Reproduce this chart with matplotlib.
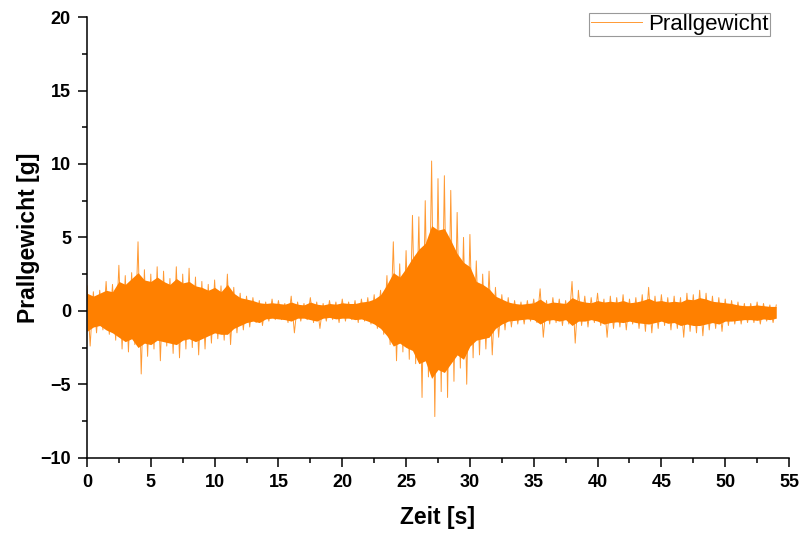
import numpy as np
import matplotlib
matplotlib.use("Agg")
import matplotlib.pyplot as plt
from matplotlib.ticker import MultipleLocator

plt.rcParams["font.family"] = ["Liberation Sans", "DejaVu Sans"]

# alternating peak readings every 0.25 s: positive peak, then negative peak
peak_step = 0.25
peak_values = [
    1.7, -2.4, 1.3, -1.5,   1.4, -1.3, 2.0, -1.6,   1.8, -2.0, 3.1, -2.6,
    2.4, -2.8, 2.6, -2.3,   4.7, -4.3, 2.8, -3.1,   2.5, -2.6, 3.0, -3.4,
    2.7, -2.4, 2.2, -2.9,   3.0, -3.2, 2.5, -2.6,   2.9, -2.5, 2.3, -3.0,
    2.0, -2.6, 1.8, -2.2,   2.1, -1.9, 1.7, -2.0,   2.5, -2.3, 1.6, -1.5,
    1.2, -1.3, 1.0, -1.1,   0.9, -0.8, 0.7, -1.0,   0.6, -0.7, 0.8, -0.6,
    0.7, -0.6, 0.5, -0.8,   1.0, -1.5, 0.6, -0.7,   0.5, -0.6, 0.9, -0.8,
    0.6, -1.2, 0.5, -0.7,   0.7, -0.6, 0.6, -0.8,   0.8, -0.7, 0.6, -0.6,
    0.7, -0.8, 0.8, -0.7,   0.9, -0.9, 1.1, -1.2,   1.4, -1.6, 2.4, -2.3,
    4.7, -3.4, 3.2, -2.8,   4.1, -3.3, 6.5, -3.6,   6.4, -5.9, 7.5, -4.5,
    10.2, -7.2, 9.0, -5.5,  9.2, -5.9, 8.2, -4.8,   6.7, -3.9, 5.0, -5.0,
    5.2, -3.2, 3.4, -3.0,   2.5, -2.6, 2.7, -3.0,   1.6, -1.8, 1.1, -1.3,
    0.9, -1.1, 0.7, -0.9,   0.6, -0.9, 0.7, -0.7,   0.8, -0.8, 1.5, -1.8,
    0.7, -0.9, 0.9, -0.8,   0.8, -1.0, 0.7, -0.9,   2.0, -2.2, 1.4, -1.0,
    1.0, -1.1, 0.9, -0.8,   1.2, -1.0, 0.8, -1.8,   1.0, -1.2, 0.9, -1.1,
    1.1, -1.3, 0.8, -0.9,   0.9, -1.2, 1.1, -1.4,   1.6, -1.5, 1.0, -1.2,
    1.1, -1.0, 0.9, -1.3,   1.0, -1.2, 0.9, -1.8,   1.2, -1.4, 1.1, -1.5,
    1.4, -1.7, 1.2, -1.3,   1.0, -1.2, 0.9, -1.4,   0.8, -1.0, 0.7, -0.9,
    0.6, -0.9, 0.5, -0.8,   0.5, -0.8, 0.6, -0.9,   0.5, -0.7, 0.4, -0.8,
    0.4,
]

# dense band of the signal, one reading every 0.5 s (0 ... 54 s)
band_step = 0.5
band_upper = [
    1.2, 1.0, 1.2, 1.4, 1.3, 2.0, 1.8, 2.2, 2.6, 2.1,        # 0 - 4.5
    2.0, 2.3, 2.0, 1.8, 2.2, 1.9, 2.0, 1.7, 1.6, 1.4,        # 5 - 9.5
    1.6, 1.3, 1.8, 1.2, 0.9, 0.8, 0.7, 0.55, 0.5, 0.55,      # 10 - 14.5
    0.5, 0.45, 0.6, 0.45, 0.4, 0.6, 0.45, 0.4, 0.5, 0.45,    # 15 - 19.5
    0.55, 0.5, 0.5, 0.6, 0.65, 0.8, 1.1, 1.8, 2.6, 2.3,      # 20 - 24.5
    2.9, 3.6, 4.2, 4.6, 5.8, 5.5, 5.6, 4.8, 3.9, 3.3,        # 25 - 29.5
    3.0, 2.0, 1.8, 1.5, 1.0, 0.8, 0.6, 0.5, 0.45, 0.5,       # 30 - 34.5
    0.55, 0.8, 0.5, 0.6, 0.55, 0.5, 0.9, 0.7, 0.6, 0.55,     # 35 - 39.5
    0.7, 0.6, 0.65, 0.6, 0.7, 0.55, 0.6, 0.7, 0.85, 0.65,    # 40 - 44.5
    0.7, 0.6, 0.65, 0.6, 0.8, 0.75, 0.9, 0.8, 0.65, 0.6,     # 45 - 49.5
    0.55, 0.5, 0.4, 0.35, 0.35, 0.4, 0.35, 0.3, 0.3,         # 50 - 54
]
band_lower = [
    -1.4, -1.1, -1.0, -1.3, -1.5, -1.8, -2.1, -1.9, -2.5, -2.2,
    -2.3, -2.0, -2.1, -2.2, -2.3, -2.0, -1.9, -2.1, -1.9, -1.7,
    -1.5, -1.6, -1.6, -1.2, -1.0, -0.8, -0.7, -0.8, -0.55, -0.5,
    -0.55, -0.6, -0.7, -0.5, -0.5, -0.6, -0.7, -0.5, -0.45, -0.55,
    -0.5, -0.5, -0.6, -0.55, -0.7, -0.9, -1.2, -1.7, -2.4, -2.2,
    -2.5, -2.7, -3.6, -3.4, -4.6, -4.0, -4.2, -3.6, -3.0, -3.3,
    -2.4, -2.0, -1.9, -1.8, -1.2, -0.9, -0.7, -0.65, -0.6, -0.55,
    -0.6, -0.9, -0.65, -0.6, -0.7, -0.6, -1.0, -0.7, -0.7, -0.6,
    -0.7, -0.9, -0.8, -0.75, -0.8, -0.7, -0.8, -0.85, -0.9, -0.8,
    -0.7, -0.85, -0.8, -1.0, -0.9, -1.0, -1.0, -0.9, -0.8, -0.9,
    -0.7, -0.7, -0.65, -0.6, -0.6, -0.65, -0.55, -0.6, -0.5,
]

peak_time = np.arange(len(peak_values)) * peak_step
band_time = np.arange(len(band_upper)) * band_step

orange = "#FF8000"

fig = plt.figure(figsize=(8.03, 5.34), dpi=100)
ax = fig.add_axes([0.1083, 0.1429, 0.8743, 0.8251])

ax.fill_between(band_time, band_lower, band_upper, color=orange, lw=0, zorder=1)
ax.plot(peak_time, peak_values, color=orange, alpha=0.8, lw=0.7, zorder=2,
        label="Prallgewicht")

ax.set_xlim(0, 55)
ax.set_ylim(-10, 20)
ax.xaxis.set_major_locator(MultipleLocator(5))
ax.xaxis.set_minor_locator(MultipleLocator(2.5))
ax.yaxis.set_major_locator(MultipleLocator(5))
ax.yaxis.set_minor_locator(MultipleLocator(2.5))

for side in ("top", "right"):
    ax.spines[side].set_visible(False)
for side in ("left", "bottom"):
    ax.spines[side].set_linewidth(1.1)

ax.tick_params(which="major", direction="out", length=6.5, width=1.1, pad=5,
               labelsize=13)
ax.tick_params(which="minor", direction="out", length=3.5, width=1.1)
for lbl in ax.get_xticklabels() + ax.get_yticklabels():
    lbl.set_fontweight("bold")

ax.set_xlabel("Zeit [s]", fontsize=16.5, fontweight="bold", labelpad=11)
ax.set_ylabel("Prallgewicht [g]", fontsize=16.5, fontweight="bold", labelpad=0)

leg = ax.legend(loc="upper right", bbox_to_anchor=(770 / 803, 1 - 13 / 534),
                bbox_transform=fig.transFigure, borderaxespad=0,
                fontsize=16, frameon=True, fancybox=False, borderpad=0.05,
                handlelength=2.3, handletextpad=0.3)
leg.get_frame().set_edgecolor("#808080")
leg.get_frame().set_linewidth(0.8)

fig.savefig("out.png", dpi=100)
